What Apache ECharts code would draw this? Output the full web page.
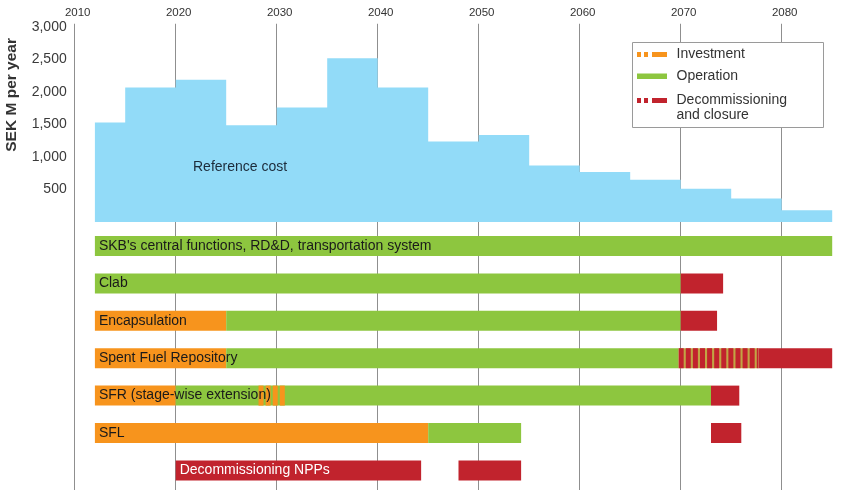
<!DOCTYPE html>
<html><head><meta charset="utf-8">
<script src="https://cdn.jsdelivr.net/npm/echarts@6/dist/echarts.min.js"></script>
<style>html,body{margin:0;padding:0;background:#fff}#c{width:851px;height:502px}</style>
</head><body><div id="c"></div>
<script>
// ---- data ----
const costYears  = [2012, 2015, 2020, 2025, 2030, 2035, 2040, 2045, 2050, 2055, 2060, 2065, 2070, 2075, 2080, 2085];
const costValues = [1530, 2070, 2190, 1490, 1760, 2520, 2070, 1240, 1340, 870, 770, 650, 510, 360, 180, 180];
const costTicks = [500, 1000, 1500, 2000, 2500, 3000];

const rows = [
  "SKB's central functions, RD&D, transportation system",
  "Clab",
  "Encapsulation",
  "Spent Fuel Repository",
  "SFR (stage-wise extension)",
  "SFL",
  "Decommissioning NPPs"
];
// [rowIndex, startYear, endYear]
const investment = [[2, 2012, 2025], [3, 2012, 2025], [4, 2012, 2020], [5, 2012, 2045]];
const operation = [[0, 2012, 2085], [1, 2012, 2070], [2, 2025, 2070], [3, 2025, 2069.8], [4, 2020, 2073], [5, 2045, 2054.2]];
const decommissioning = [[1, 2070, 2074.2], [2, 2070, 2073.6], [3, 2077.7, 2085], [4, 2073, 2075.8], [5, 2073, 2076], [6, 2020, 2044.3], [6, 2048, 2054.2]];
// striped (mixed) phases
const investmentStriped = [[4, 2028.2, 2031]];
const decommissioningStriped = [[3, 2069.8, 2077.7]];

// ---- style ----
const FONT = "'Liberation Sans', Arial, Helvetica, sans-serif";
const C_BLUE = '#92dbf8', C_GREEN = '#8dc63f', C_ORANGE = '#f7941d', C_RED = '#c1232d', C_TAN = '#c2a444';
const BAR_H = 20;

const chart = echarts.init(document.getElementById('c'));

function segRender(color) {
  return function (params, api) {
    const r = api.value(0), s = api.value(1), e = api.value(2);
    const p0 = api.coord([s, r]), p1 = api.coord([e, r]);
    return { type: 'rect', shape: { x: p0[0], y: p0[1] - BAR_H / 2, width: p1[0] - p0[0], height: BAR_H }, style: { fill: color } };
  };
}
function stripeRender(stripeColor, gapColor) {
  return function (params, api) {
    const r = api.value(0), s = api.value(1), e = api.value(2);
    const p0 = api.coord([s, r]), p1 = api.coord([e, r]);
    const children = [];
    if (gapColor) children.push({ type: 'rect', shape: { x: p0[0], y: p0[1] - BAR_H / 2, width: p1[0] - p0[0], height: BAR_H }, style: { fill: gapColor } });
    for (let x = p0[0]; x < p1[0]; x += 7.1) {
      children.push({ type: 'rect', shape: { x: x, y: p0[1] - BAR_H / 2, width: Math.min(5, p1[0] - x), height: BAR_H }, style: { fill: stripeColor } });
    }
    return { type: 'group', children: children };
  };
}

const allSegs = [].concat(
  investment.map(d => d.concat('inv')),
  operation.map(d => d.concat('op')),
  decommissioning.map(d => d.concat('dec'))
);
const labelData = rows.map((name, i) => {
  const segs = allSegs.filter(d => d[0] === i).sort((a, b) => a[1] - b[1]);
  return [i, segs[0][1], segs[0][3] === 'dec' ? 1 : 0];
});

const segSeries = (name, data, render, z) => ({
  name: name, type: 'custom', xAxisIndex: 1, yAxisIndex: 1, z: z,
  renderItem: render, encode: { x: [1, 2], y: 0 }, data: data, silent: true
});

const xCommon = { type: 'value', min: 2010, max: 2090, interval: 10,
  axisLine: { show: false }, axisTick: { show: false },
  splitLine: { show: true, lineStyle: { color: '#8f8f8f', width: 1 } } };

chart.setOption({
  animation: false,
  grid: [
    { left: 74.7, width: 808, top: 23.75, height: 198.25, containLabel: false, outerBoundsMode: 'none' },
    { left: 74.7, width: 808, top: 222, height: 268, containLabel: false, outerBoundsMode: 'none' }
  ],
  xAxis: [
    Object.assign({}, xCommon, { gridIndex: 0, position: 'top',
      axisLabel: { show: true, showMaxLabel: false, margin: 5, fontSize: 11.5, color: '#333', fontFamily: FONT, padding: [0, 0, 0, 6],
        formatter: v => String(v) } }),
    Object.assign({}, xCommon, { gridIndex: 1, position: 'bottom', axisLabel: { show: false } })
  ],
  yAxis: [
    { type: 'value', gridIndex: 0, min: 0, max: 3050, interval: 500,
      axisLine: { show: false }, axisTick: { show: false }, splitLine: { show: false },
      axisLabel: { showMinLabel: false, showMaxLabel: false, margin: 8, fontSize: 14, color: '#3a3a3a', fontFamily: FONT,
        formatter: v => costTicks.indexOf(v) >= 0 ? v.toLocaleString('en-US') : '' },
      name: 'SEK M per year', nameLocation: 'middle', nameRotate: 90, nameGap: 55,
      nameTextStyle: { fontSize: 15.5, fontWeight: 'bold', color: '#333', fontFamily: FONT, padding: [0, 0, 0, 56] } },
    { type: 'value', gridIndex: 1, min: -0.642, max: 6.524, inverse: true, show: false }
  ],
  graphic: [
    { type: 'text', left: 193, top: 160, style: { text: 'Reference cost', fontSize: 14, fontFamily: FONT, fill: '#1c2b3a' }, z: 5 },
    { type: 'rect', shape: { x: 632.5, y: 42.5, width: 191, height: 85 }, style: { fill: '#fff', stroke: '#9a9a9a', lineWidth: 1 }, z: 10 },
    { type: 'rect', shape: { x: 637, y: 52, width: 4, height: 5 }, style: { fill: C_ORANGE }, z: 11 },
    { type: 'rect', shape: { x: 644, y: 52, width: 4, height: 5 }, style: { fill: C_ORANGE }, z: 11 },
    { type: 'rect', shape: { x: 652, y: 52, width: 15, height: 5 }, style: { fill: C_ORANGE }, z: 11 },
    { type: 'rect', shape: { x: 637, y: 73.5, width: 30, height: 5.5 }, style: { fill: C_GREEN }, z: 11 },
    { type: 'rect', shape: { x: 637, y: 98, width: 4, height: 5 }, style: { fill: C_RED }, z: 11 },
    { type: 'rect', shape: { x: 644, y: 98, width: 4, height: 5 }, style: { fill: C_RED }, z: 11 },
    { type: 'rect', shape: { x: 652, y: 98, width: 15, height: 5 }, style: { fill: C_RED }, z: 11 },
    { type: 'text', x: 676.5, y: 54.5, style: { text: 'Investment', fontSize: 14, fontFamily: FONT, fill: '#333', verticalAlign: 'middle' }, z: 11 },
    { type: 'text', x: 676.5, y: 76.5, style: { text: 'Operation', fontSize: 14, fontFamily: FONT, fill: '#333', verticalAlign: 'middle' }, z: 11 },
    { type: 'text', x: 676.5, y: 100.5, style: { text: 'Decommissioning', fontSize: 14, fontFamily: FONT, fill: '#333', verticalAlign: 'middle' }, z: 11 },
    { type: 'text', x: 676.5, y: 115.5, style: { text: 'and closure', fontSize: 14, fontFamily: FONT, fill: '#333', verticalAlign: 'middle' }, z: 11 }
  ],
  series: [
    { name: 'Reference cost', type: 'line', xAxisIndex: 0, yAxisIndex: 0, step: 'end', symbol: 'none', silent: true,
      data: costYears.map((y, i) => [y, costValues[i]]),
      lineStyle: { width: 0, opacity: 0 }, areaStyle: { color: C_BLUE, opacity: 1 }, z: 2 },
    segSeries('Investment', investment, segRender(C_ORANGE), 2),
    segSeries('Operation', operation, segRender(C_GREEN), 2),
    segSeries('Decommissioning and closure', decommissioning, segRender(C_RED), 2),
    segSeries('Investment (stage-wise)', investmentStriped, stripeRender(C_ORANGE, null), 3),
    segSeries('Decommissioning (transition)', decommissioningStriped, stripeRender(C_RED, C_TAN), 3),
    { name: 'labels', type: 'custom', xAxisIndex: 1, yAxisIndex: 1, z: 4, silent: true,
      encode: { x: 1, y: 0 }, data: labelData,
      renderItem: function (params, api) {
        const p = api.coord([api.value(1), api.value(0)]);
        return { type: 'text', x: p[0] + 4, y: p[1], style: { text: rows[params.dataIndex], fontSize: 14, fontFamily: FONT,
          fill: api.value(2) ? '#ffffff' : '#1a1a1a', align: 'left', verticalAlign: 'middle' } };
      } }
  ]
});
</script></body></html>
